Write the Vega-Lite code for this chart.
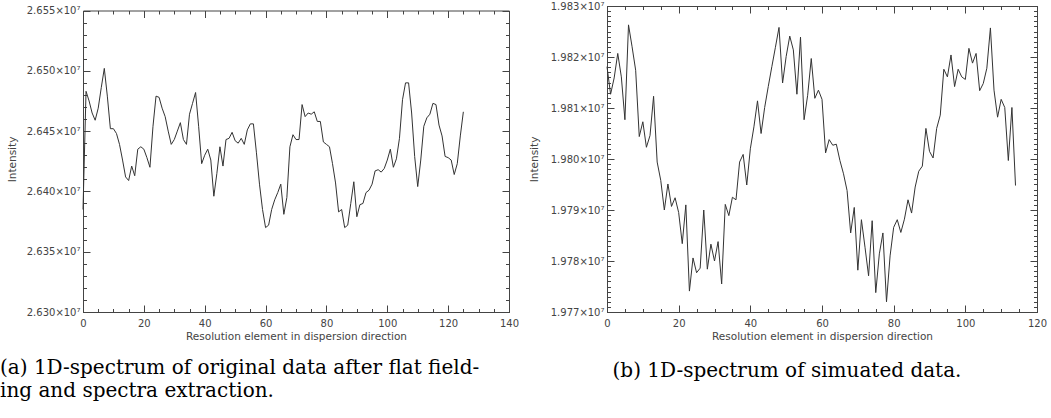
{
  "$schema": "https://vega.github.io/schema/vega-lite/v6.json",
  "background": "white",
  "autosize": {"type": "none"},
  "padding": {"left": 83, "top": 6, "right": 968, "bottom": 412},
  "spacing": 98,
  "bounds": "flush",
  "config": {
    "view": {"stroke": null},
    "axis": {
      "grid": false, "domainColor": "#444", "tickColor": "#444", "labelColor": "#444", "titleColor": "#444",
      "labelFont": "DejaVu Sans", "labelFontSize": 10, "titleFont": "DejaVu Sans", "titleFontSize": 10.5,
      "titleFontWeight": "normal", "domainWidth": 1, "tickWidth": 1, "labelFlush": false, "labelOverlap": false
    }
  },
  "datasets": {
    "a": [
      {"element": 0, "intensity": 26385000}, {"element": 1, "intensity": 26483000}, {"element": 2, "intensity": 26475000},
      {"element": 3, "intensity": 26465000}, {"element": 4, "intensity": 26459000}, {"element": 5, "intensity": 26469000},
      {"element": 6, "intensity": 26486000}, {"element": 7, "intensity": 26502000}, {"element": 8, "intensity": 26479000},
      {"element": 9, "intensity": 26452000}, {"element": 10, "intensity": 26452000}, {"element": 11, "intensity": 26448000},
      {"element": 12, "intensity": 26439000}, {"element": 13, "intensity": 26426000}, {"element": 14, "intensity": 26412000},
      {"element": 15, "intensity": 26409000}, {"element": 16, "intensity": 26421000}, {"element": 17, "intensity": 26413000},
      {"element": 18, "intensity": 26435000}, {"element": 19, "intensity": 26437000}, {"element": 20, "intensity": 26435000},
      {"element": 21, "intensity": 26428000}, {"element": 22, "intensity": 26420000}, {"element": 23, "intensity": 26454000},
      {"element": 24, "intensity": 26479000}, {"element": 25, "intensity": 26478000}, {"element": 26, "intensity": 26469000},
      {"element": 27, "intensity": 26462000}, {"element": 28, "intensity": 26450000}, {"element": 29, "intensity": 26439000},
      {"element": 30, "intensity": 26443000}, {"element": 31, "intensity": 26450000}, {"element": 32, "intensity": 26457000},
      {"element": 33, "intensity": 26443000}, {"element": 34, "intensity": 26439000}, {"element": 35, "intensity": 26464000},
      {"element": 36, "intensity": 26473000}, {"element": 37, "intensity": 26482000}, {"element": 38, "intensity": 26454000},
      {"element": 39, "intensity": 26423000}, {"element": 40, "intensity": 26430000}, {"element": 41, "intensity": 26435000},
      {"element": 42, "intensity": 26426000}, {"element": 43, "intensity": 26396000}, {"element": 44, "intensity": 26415000},
      {"element": 45, "intensity": 26437000}, {"element": 46, "intensity": 26421000}, {"element": 47, "intensity": 26443000},
      {"element": 48, "intensity": 26444000}, {"element": 49, "intensity": 26449000}, {"element": 50, "intensity": 26442000},
      {"element": 51, "intensity": 26440000}, {"element": 52, "intensity": 26444000}, {"element": 53, "intensity": 26439000},
      {"element": 54, "intensity": 26451000}, {"element": 55, "intensity": 26456000}, {"element": 56, "intensity": 26456000},
      {"element": 57, "intensity": 26432000}, {"element": 58, "intensity": 26406000}, {"element": 59, "intensity": 26385000},
      {"element": 60, "intensity": 26370000}, {"element": 61, "intensity": 26372000}, {"element": 62, "intensity": 26385000},
      {"element": 63, "intensity": 26393000}, {"element": 64, "intensity": 26399000}, {"element": 65, "intensity": 26406000},
      {"element": 66, "intensity": 26381000}, {"element": 67, "intensity": 26395000}, {"element": 68, "intensity": 26437000},
      {"element": 69, "intensity": 26447000}, {"element": 70, "intensity": 26443000}, {"element": 71, "intensity": 26443000},
      {"element": 72, "intensity": 26472000}, {"element": 73, "intensity": 26462000}, {"element": 74, "intensity": 26465000},
      {"element": 75, "intensity": 26464000}, {"element": 76, "intensity": 26466000}, {"element": 77, "intensity": 26458000},
      {"element": 78, "intensity": 26458000}, {"element": 79, "intensity": 26441000}, {"element": 80, "intensity": 26439000},
      {"element": 81, "intensity": 26437000}, {"element": 82, "intensity": 26423000}, {"element": 83, "intensity": 26407000},
      {"element": 84, "intensity": 26383000}, {"element": 85, "intensity": 26385000}, {"element": 86, "intensity": 26370000},
      {"element": 87, "intensity": 26372000}, {"element": 88, "intensity": 26390000}, {"element": 89, "intensity": 26408000},
      {"element": 90, "intensity": 26379000}, {"element": 91, "intensity": 26389000}, {"element": 92, "intensity": 26390000},
      {"element": 93, "intensity": 26399000}, {"element": 94, "intensity": 26401000}, {"element": 95, "intensity": 26406000},
      {"element": 96, "intensity": 26417000}, {"element": 97, "intensity": 26418000}, {"element": 98, "intensity": 26416000},
      {"element": 99, "intensity": 26419000}, {"element": 100, "intensity": 26426000}, {"element": 101, "intensity": 26435000},
      {"element": 102, "intensity": 26420000}, {"element": 103, "intensity": 26427000}, {"element": 104, "intensity": 26444000},
      {"element": 105, "intensity": 26476000}, {"element": 106, "intensity": 26490000}, {"element": 107, "intensity": 26490000},
      {"element": 108, "intensity": 26465000}, {"element": 109, "intensity": 26429000}, {"element": 110, "intensity": 26404000},
      {"element": 111, "intensity": 26426000}, {"element": 112, "intensity": 26454000}, {"element": 113, "intensity": 26461000},
      {"element": 114, "intensity": 26464000}, {"element": 115, "intensity": 26473000}, {"element": 116, "intensity": 26472000},
      {"element": 117, "intensity": 26455000}, {"element": 118, "intensity": 26446000}, {"element": 119, "intensity": 26429000},
      {"element": 120, "intensity": 26428000}, {"element": 121, "intensity": 26426000}, {"element": 122, "intensity": 26414000},
      {"element": 123, "intensity": 26423000}, {"element": 124, "intensity": 26446000}, {"element": 125, "intensity": 26466000}
    ],
    "b": [
      {"element": 0, "intensity": 19818100}, {"element": 1, "intensity": 19812700}, {"element": 2, "intensity": 19815900},
      {"element": 3, "intensity": 19820700}, {"element": 4, "intensity": 19816100}, {"element": 5, "intensity": 19807700},
      {"element": 6, "intensity": 19826300}, {"element": 7, "intensity": 19822000}, {"element": 8, "intensity": 19817400},
      {"element": 9, "intensity": 19804400}, {"element": 10, "intensity": 19807300}, {"element": 11, "intensity": 19802300},
      {"element": 12, "intensity": 19804600}, {"element": 13, "intensity": 19812300}, {"element": 14, "intensity": 19799400},
      {"element": 15, "intensity": 19795800}, {"element": 16, "intensity": 19790000}, {"element": 17, "intensity": 19795100},
      {"element": 18, "intensity": 19790700}, {"element": 19, "intensity": 19792400}, {"element": 20, "intensity": 19789500},
      {"element": 21, "intensity": 19783400}, {"element": 22, "intensity": 19791000}, {"element": 23, "intensity": 19774100},
      {"element": 24, "intensity": 19780600}, {"element": 25, "intensity": 19777700}, {"element": 26, "intensity": 19778600},
      {"element": 27, "intensity": 19790000}, {"element": 28, "intensity": 19778400}, {"element": 29, "intensity": 19783300},
      {"element": 30, "intensity": 19780000}, {"element": 31, "intensity": 19783800}, {"element": 32, "intensity": 19775500},
      {"element": 33, "intensity": 19791100}, {"element": 34, "intensity": 19788900}, {"element": 35, "intensity": 19792500},
      {"element": 36, "intensity": 19792000}, {"element": 37, "intensity": 19799400}, {"element": 38, "intensity": 19800900},
      {"element": 39, "intensity": 19794900}, {"element": 40, "intensity": 19802000}, {"element": 41, "intensity": 19806300},
      {"element": 42, "intensity": 19811400}, {"element": 43, "intensity": 19805000}, {"element": 44, "intensity": 19810100},
      {"element": 45, "intensity": 19814200}, {"element": 46, "intensity": 19818100}, {"element": 47, "intensity": 19821900},
      {"element": 48, "intensity": 19825800}, {"element": 49, "intensity": 19814900}, {"element": 50, "intensity": 19820100},
      {"element": 51, "intensity": 19824100}, {"element": 52, "intensity": 19821400}, {"element": 53, "intensity": 19812700},
      {"element": 54, "intensity": 19823900}, {"element": 55, "intensity": 19807700}, {"element": 56, "intensity": 19812500},
      {"element": 57, "intensity": 19819700}, {"element": 58, "intensity": 19811900}, {"element": 59, "intensity": 19813500},
      {"element": 60, "intensity": 19811700}, {"element": 61, "intensity": 19801200}, {"element": 62, "intensity": 19803800},
      {"element": 63, "intensity": 19802700}, {"element": 64, "intensity": 19802900}, {"element": 65, "intensity": 19799700},
      {"element": 66, "intensity": 19797100}, {"element": 67, "intensity": 19793800}, {"element": 68, "intensity": 19785500},
      {"element": 69, "intensity": 19790500}, {"element": 70, "intensity": 19778200}, {"element": 71, "intensity": 19788100},
      {"element": 72, "intensity": 19782700}, {"element": 73, "intensity": 19777100}, {"element": 74, "intensity": 19787900},
      {"element": 75, "intensity": 19773800}, {"element": 76, "intensity": 19781400}, {"element": 77, "intensity": 19785500},
      {"element": 78, "intensity": 19772000}, {"element": 79, "intensity": 19781000}, {"element": 80, "intensity": 19786600},
      {"element": 81, "intensity": 19788100}, {"element": 82, "intensity": 19785600}, {"element": 83, "intensity": 19788200},
      {"element": 84, "intensity": 19792000}, {"element": 85, "intensity": 19789400}, {"element": 86, "intensity": 19794500},
      {"element": 87, "intensity": 19797600}, {"element": 88, "intensity": 19798600}, {"element": 89, "intensity": 19806000},
      {"element": 90, "intensity": 19801500}, {"element": 91, "intensity": 19800200}, {"element": 92, "intensity": 19806000},
      {"element": 93, "intensity": 19808600}, {"element": 94, "intensity": 19817600}, {"element": 95, "intensity": 19816100},
      {"element": 96, "intensity": 19820400}, {"element": 97, "intensity": 19814200}, {"element": 98, "intensity": 19817600},
      {"element": 99, "intensity": 19816100}, {"element": 100, "intensity": 19815600}, {"element": 101, "intensity": 19821700},
      {"element": 102, "intensity": 19818800}, {"element": 103, "intensity": 19820700}, {"element": 104, "intensity": 19813400},
      {"element": 105, "intensity": 19814800}, {"element": 106, "intensity": 19817800}, {"element": 107, "intensity": 19825700},
      {"element": 108, "intensity": 19813500}, {"element": 109, "intensity": 19808200}, {"element": 110, "intensity": 19811700},
      {"element": 111, "intensity": 19810100}, {"element": 112, "intensity": 19799700}, {"element": 113, "intensity": 19810100},
      {"element": 114, "intensity": 19794800}
    ]
  },
  "hconcat": [
    {
      "width": 426,
      "height": 306,
      "data": {"name": "a"},
      "title": {
        "text": ["(a) 1D-spectrum of original data after flat field-", "ing and spectra extraction."],
        "orient": "bottom", "anchor": "start", "frame": "group", "dx": -83, "offset": 16,
        "font": "DejaVu Serif", "fontSize": 20, "fontWeight": "normal", "color": "#000", "lineHeight": 23.5
      },
      "resolve": {"axis": {"x": "independent", "y": "independent"}},
      "layer": [
        {
          "mark": {"type": "line", "stroke": "#333", "strokeWidth": 1},
          "encoding": {
            "x": {"field": "element", "type": "quantitative", "scale": {"domain": [0, 140], "nice": false, "zero": false},
              "axis": {"orient": "bottom", "values": [0, 20, 40, 60, 80, 100, 120, 140], "ticks": false, "tickSize": 0, "labelPadding": 6,
                "title": "Resolution element in dispersion direction", "titleY": 24, "titleBaseline": "middle"}},
            "y": {"field": "intensity", "type": "quantitative", "scale": {"domain": [26300000, 26550000], "nice": false, "zero": false, "range": [306, 4.5]},
              "axis": {"orient": "left", "values": [26300000, 26350000, 26400000, 26450000, 26500000, 26550000], "ticks": false, "tickSize": 0, "labelPadding": 3,
                "labelExpr": "format(datum.value/1e7,'.3f') + '×10⁷'", "title": "Intensity", "titleX": -71, "titleY": 153, "titleAngle": -90, "titleBaseline": "middle"}}
          }
        },
        {
          "mark": {"type": "line", "strokeOpacity": 0},
          "encoding": {
            "x": {"field": "element", "type": "quantitative", "scale": {"domain": [0, 140], "nice": false, "zero": false},
              "axis": {"orient": "bottom", "values": [0, 20, 40, 60, 80, 100, 120, 140], "labels": false, "domain": false, "title": null, "tickSize": -7}},
            "y": {"field": "intensity", "type": "quantitative", "scale": {"domain": [26300000, 26550000], "nice": false, "zero": false, "range": [306, 4.5]},
              "axis": {"orient": "left", "values": [26300000, 26350000, 26400000, 26450000, 26500000, 26550000], "labels": false, "domain": false, "title": null, "tickSize": -7}}
          }
        },
        {
          "mark": {"type": "line", "strokeOpacity": 0},
          "encoding": {
            "x": {"field": "element", "type": "quantitative", "scale": {"domain": [0, 140], "nice": false, "zero": false},
              "axis": {"orient": "bottom", "values": [0, 5, 10, 15, 20, 25, 30, 35, 40, 45, 50, 55, 60, 65, 70, 75, 80, 85, 90, 95, 100, 105, 110, 115, 120, 125, 130, 135, 140], "labels": false, "domain": false, "title": null, "tickSize": -3.5}},
            "y": {"field": "intensity", "type": "quantitative", "scale": {"domain": [26300000, 26550000], "nice": false, "zero": false, "range": [306, 4.5]},
              "axis": {"orient": "left", "values": [26300000, 26310000, 26320000, 26330000, 26340000, 26350000, 26360000, 26370000, 26380000, 26390000, 26400000, 26410000, 26420000, 26430000, 26440000, 26450000, 26460000, 26470000, 26480000, 26490000, 26500000, 26510000, 26520000, 26530000, 26540000, 26550000], "labels": false, "domain": false, "title": null, "tickSize": -3.5}}
          }
        },
        {
          "mark": {"type": "line", "strokeOpacity": 0},
          "encoding": {
            "x": {"field": "element", "type": "quantitative", "scale": {"domain": [0, 140], "nice": false, "zero": false},
              "axis": {"orient": "top", "offset": -4.5, "values": [0, 20, 40, 60, 80, 100, 120, 140], "labels": false, "domain": true, "title": null, "tickSize": -7}},
            "y": {"field": "intensity", "type": "quantitative", "scale": {"domain": [26300000, 26550000], "nice": false, "zero": false, "range": [306, 4.5]},
              "axis": {"orient": "right", "values": [26300000, 26350000, 26400000, 26450000, 26500000, 26550000], "labels": false, "domain": true, "title": null, "tickSize": -7}}
          }
        },
        {
          "mark": {"type": "line", "strokeOpacity": 0},
          "encoding": {
            "x": {"field": "element", "type": "quantitative", "scale": {"domain": [0, 140], "nice": false, "zero": false},
              "axis": {"orient": "top", "offset": -4.5, "values": [0, 5, 10, 15, 20, 25, 30, 35, 40, 45, 50, 55, 60, 65, 70, 75, 80, 85, 90, 95, 100, 105, 110, 115, 120, 125, 130, 135, 140], "labels": false, "domain": false, "title": null, "tickSize": -3.5}},
            "y": {"field": "intensity", "type": "quantitative", "scale": {"domain": [26300000, 26550000], "nice": false, "zero": false, "range": [306, 4.5]},
              "axis": {"orient": "right", "values": [26300000, 26310000, 26320000, 26330000, 26340000, 26350000, 26360000, 26370000, 26380000, 26390000, 26400000, 26410000, 26420000, 26430000, 26440000, 26450000, 26460000, 26470000, 26480000, 26490000, 26500000, 26510000, 26520000, 26530000, 26540000, 26550000], "labels": false, "domain": false, "title": null, "tickSize": -3.5}}
          }
        }
      ]
    },
    {
      "width": 430,
      "height": 306,
      "data": {"name": "b"},
      "title": {
        "text": "(b) 1D-spectrum of simuated data.",
        "orient": "bottom", "anchor": "middle", "frame": "group", "dx": -35, "offset": 19,
        "font": "DejaVu Serif", "fontSize": 20, "fontWeight": "normal", "color": "#000"
      },
      "resolve": {"axis": {"x": "independent", "y": "independent"}},
      "layer": [
        {
          "mark": {"type": "line", "stroke": "#333", "strokeWidth": 1},
          "encoding": {
            "x": {"field": "element", "type": "quantitative", "scale": {"domain": [0, 120], "nice": false, "zero": false},
              "axis": {"orient": "bottom", "values": [0, 20, 40, 60, 80, 100, 120], "ticks": false, "tickSize": 0, "labelPadding": 6,
                "title": "Resolution element in dispersion direction", "titleY": 24, "titleBaseline": "middle"}},
            "y": {"field": "intensity", "type": "quantitative", "scale": {"domain": [19770000, 19830000], "nice": false, "zero": false},
              "axis": {"orient": "left", "values": [19770000, 19780000, 19790000, 19800000, 19810000, 19820000, 19830000], "ticks": false, "tickSize": 0, "labelPadding": 3,
                "labelExpr": "format(datum.value/1e7,'.3f') + '×10⁷'", "title": "Intensity", "titleX": -73, "titleY": 153, "titleAngle": -90, "titleBaseline": "middle"}}
          }
        },
        {
          "mark": {"type": "line", "strokeOpacity": 0},
          "encoding": {
            "x": {"field": "element", "type": "quantitative", "scale": {"domain": [0, 120], "nice": false, "zero": false},
              "axis": {"orient": "bottom", "values": [0, 20, 40, 60, 80, 100, 120], "labels": false, "domain": false, "title": null, "tickSize": -7}},
            "y": {"field": "intensity", "type": "quantitative", "scale": {"domain": [19770000, 19830000], "nice": false, "zero": false},
              "axis": {"orient": "left", "values": [19770000, 19780000, 19790000, 19800000, 19810000, 19820000, 19830000], "labels": false, "domain": false, "title": null, "tickSize": -7}}
          }
        },
        {
          "mark": {"type": "line", "strokeOpacity": 0},
          "encoding": {
            "x": {"field": "element", "type": "quantitative", "scale": {"domain": [0, 120], "nice": false, "zero": false},
              "axis": {"orient": "bottom", "values": [0, 5, 10, 15, 20, 25, 30, 35, 40, 45, 50, 55, 60, 65, 70, 75, 80, 85, 90, 95, 100, 105, 110, 115, 120], "labels": false, "domain": false, "title": null, "tickSize": -3.5}},
            "y": {"field": "intensity", "type": "quantitative", "scale": {"domain": [19770000, 19830000], "nice": false, "zero": false},
              "axis": {"orient": "left", "values": [19770000, 19771000, 19772000, 19773000, 19774000, 19775000, 19776000, 19777000, 19778000, 19779000, 19780000, 19781000, 19782000, 19783000, 19784000, 19785000, 19786000, 19787000, 19788000, 19789000, 19790000, 19791000, 19792000, 19793000, 19794000, 19795000, 19796000, 19797000, 19798000, 19799000, 19800000, 19801000, 19802000, 19803000, 19804000, 19805000, 19806000, 19807000, 19808000, 19809000, 19810000, 19811000, 19812000, 19813000, 19814000, 19815000, 19816000, 19817000, 19818000, 19819000, 19820000, 19821000, 19822000, 19823000, 19824000, 19825000, 19826000, 19827000, 19828000, 19829000, 19830000], "labels": false, "domain": false, "title": null, "tickSize": -3.5}}
          }
        },
        {
          "mark": {"type": "line", "strokeOpacity": 0},
          "encoding": {
            "x": {"field": "element", "type": "quantitative", "scale": {"domain": [0, 120], "nice": false, "zero": false},
              "axis": {"orient": "top", "values": [0, 20, 40, 60, 80, 100, 120], "labels": false, "domain": true, "title": null, "tickSize": -7}},
            "y": {"field": "intensity", "type": "quantitative", "scale": {"domain": [19770000, 19830000], "nice": false, "zero": false},
              "axis": {"orient": "right", "values": [19770000, 19780000, 19790000, 19800000, 19810000, 19820000, 19830000], "labels": false, "domain": true, "title": null, "tickSize": -7}}
          }
        },
        {
          "mark": {"type": "line", "strokeOpacity": 0},
          "encoding": {
            "x": {"field": "element", "type": "quantitative", "scale": {"domain": [0, 120], "nice": false, "zero": false},
              "axis": {"orient": "top", "values": [0, 5, 10, 15, 20, 25, 30, 35, 40, 45, 50, 55, 60, 65, 70, 75, 80, 85, 90, 95, 100, 105, 110, 115, 120], "labels": false, "domain": false, "title": null, "tickSize": -3.5}},
            "y": {"field": "intensity", "type": "quantitative", "scale": {"domain": [19770000, 19830000], "nice": false, "zero": false},
              "axis": {"orient": "right", "values": [19770000, 19771000, 19772000, 19773000, 19774000, 19775000, 19776000, 19777000, 19778000, 19779000, 19780000, 19781000, 19782000, 19783000, 19784000, 19785000, 19786000, 19787000, 19788000, 19789000, 19790000, 19791000, 19792000, 19793000, 19794000, 19795000, 19796000, 19797000, 19798000, 19799000, 19800000, 19801000, 19802000, 19803000, 19804000, 19805000, 19806000, 19807000, 19808000, 19809000, 19810000, 19811000, 19812000, 19813000, 19814000, 19815000, 19816000, 19817000, 19818000, 19819000, 19820000, 19821000, 19822000, 19823000, 19824000, 19825000, 19826000, 19827000, 19828000, 19829000, 19830000], "labels": false, "domain": false, "title": null, "tickSize": -3.5}}
          }
        }
      ]
    }
  ]
}
